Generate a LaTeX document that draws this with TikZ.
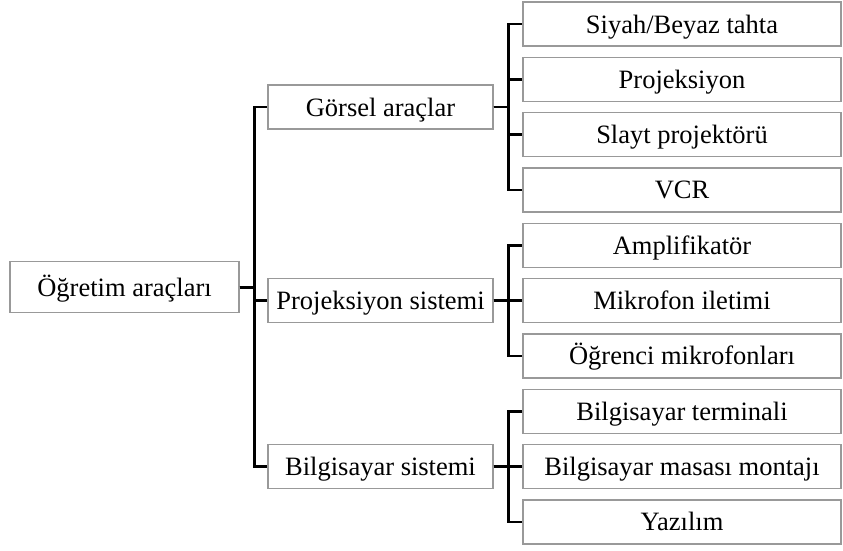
\documentclass[tikz,border=0pt]{standalone}
\usepackage{fontspec}
\setmainfont{Liberation Serif}
\usetikzlibrary{positioning}

\begin{document}
\begin{tikzpicture}[x=1pt,y=1pt,node distance=55.33pt,
		box/.style={rectangle,draw=black!40,line width=1.1pt,inner sep=0pt,minimum height=44pt,text height=22pt,text depth=4pt,font=\fontsize{26.5}{30}\selectfont},
		leaf/.style={box,minimum width=318pt},
		mid/.style={box,minimum width=225pt},
		conn/.style={line width=2.4pt,black}]
		 \useasboundingbox (0,0) rectangle (843,-550);

		 \node[leaf]             (siyah)       at (682,-24)                   {Siyah/Beyaz tahta};
		 \node[leaf]             (projeksiyon) [below of = siyah]             {Projeksiyon};
		 \node[leaf]             (slayt)       [below of = projeksiyon]       {Slayt projektörü};
		 \node[leaf]             (vcr)         [below of = slayt]             {VCR};
		 \node[leaf]             (amplifikator)[below of = vcr]               {Amplifikatör};
		 \node[leaf]             (mikrofon)    [below of = amplifikator]      {Mikrofon iletimi};
		 \node[leaf]             (ogrenci)     [below of = mikrofon]          {Öğrenci mikrofonları};
		 \node[leaf]             (terminal)    [below of = ogrenci]           {Bilgisayar terminali};
		 \node[leaf]             (masa)        [below of = terminal]          {Bilgisayar masası montajı};
		 \node[leaf]             (yazilim)     [below of = masa]              {Yazılım};

		 \node[mid]              (gorsel)      [node distance=301.5pt, left of = projeksiyon, yshift=-27.7pt] {Görsel araçlar};
		 \node[mid]              (sistem)      [node distance=301.5pt, left of = mikrofon]    {Projeksiyon sistemi};
		 \node[mid]              (bilgisayar)  [node distance=301.5pt, left of = masa]        {Bilgisayar sistemi};
		 \node[box,minimum width=229pt,minimum height=51pt] (root) [node distance=256pt, left of = sistem, yshift=13.3pt] {Öğretim araçları};

		 \foreach \c in {gorsel,sistem,bilgisayar}
		 	\draw[conn] (root.east) -- ++(15,0) |- (\c.west);
		 \foreach \c in {siyah,projeksiyon,slayt,vcr}
		 	\draw[conn] (gorsel.east) -- ++(15,0) |- (\c.west);
		 \foreach \c in {amplifikator,mikrofon,ogrenci}
		 	\draw[conn] (sistem.east) -- ++(15,0) |- (\c.west);
		 \foreach \c in {terminal,masa,yazilim}
		 	\draw[conn] (bilgisayar.east) -- ++(15,0) |- (\c.west);
	\end{tikzpicture}
\end{document}
